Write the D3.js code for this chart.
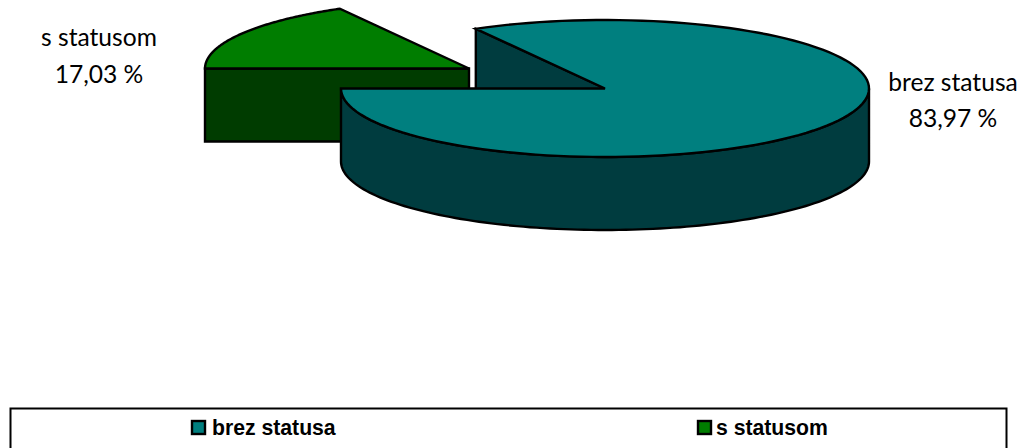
<!DOCTYPE html>
<html><head><meta charset="utf-8">
<script src="https://cdn.jsdelivr.net/npm/d3@7"></script>
<style>html,body{margin:0;padding:0;background:#fff;overflow:hidden}svg{display:block}</style>
</head><body><svg id="c" width="1020" height="448"></svg>
<script>
const categories = ["s statusom", "brez statusa"];
const values = [17.03, 83.97];
const valueLabels = ["17,03 %", "83,97 %"];
const legendOrder = ["brez statusa", "s statusom"];
const topColors = ["#007d00", "#007f7f"];
const wallColors = ["#003c00", "#003c3f"];

const svg = d3.select("#c");
const W = 264, H = 68.5, depth = 73;
const sx = d3.scaleLinear().domain([-1, 1]).range([605 - W, 605 + W]);
const sy = d3.scaleLinear().domain([-1, 1]).range([88.5 - H, 88.5 + H]);
const pie = d3.pie().sort(null).value(d => d).startAngle(-Math.PI / 2).endAngle(3 * Math.PI / 2);
const arcs = pie(values);
const explode = [{dx: -136, dy: -20}, {dx: 0, dy: 0}];
const line = d3.line().x(d => d[0]).y(d => d[1]);
const pt = (a, o, dz = 0) => [sx(Math.sin(a)) + o.dx, sy(-Math.cos(a)) + o.dy + dz];
const ctr = (o, dz = 0) => [sx(0) + o.dx, sy(0) + o.dy + dz];
const rim = (a0, a1, o, dz = 0) => d3.range(0, 121).map(i => pt(a0 + (a1 - a0) * i / 120, o, dz));
const style = s => s.attr("stroke", "#000").attr("stroke-width", 2.4).attr("stroke-linejoin", "miter");
const draw = (pts, fill) => style(svg.append("path").attr("d", line(pts) + "Z").attr("fill", fill));

// exploded slice
{
  const a = arcs[0], o = explode[0];
  const p0 = pt(a.startAngle, o), c = ctr(o);
  draw([p0, c, ctr(o, depth), pt(a.startAngle, o, depth)], wallColors[0]);
  draw([c, ...rim(a.startAngle, a.endAngle, o)], topColors[0]);
}
// main slice
{
  const a = arcs[1], o = explode[1];
  const c = ctr(o);
  draw([pt(a.startAngle, o), c, ctr(o, depth), pt(a.startAngle, o, depth)], wallColors[1]);
  const back = Math.PI / 2, end = a.endAngle;
  draw([...rim(back, end, o), ...rim(end, back, o, depth)], wallColors[1]);
  draw([c, ...rim(a.startAngle, a.endAngle, o)], topColors[1]);
}
// data labels
const labelPos = [{x: 99, y1: 46, y2: 83}, {x: 953, y1: 91, y2: 127}];
categories.forEach((c, i) => {
  const g = svg.append("g").attr("font-family", "Lato, 'Open Sans', sans-serif").attr("font-size", 24.6).attr("fill", "#000").attr("text-anchor", "middle");
  g.append("text").attr("x", labelPos[i].x).attr("y", labelPos[i].y1).text(c);
  g.append("text").attr("x", labelPos[i].x).attr("y", labelPos[i].y2).text(valueLabels[i]);
});
// legend
svg.append("rect").attr("x", 10.5).attr("y", 408.5).attr("width", 996).attr("height", 60).attr("fill", "#fff").attr("stroke", "#000").attr("stroke-width", 2);
const legendX = [192, 698], legendTextX = [212, 716];
legendOrder.forEach((c, i) => {
  const k = categories.indexOf(c);
  svg.append("rect").attr("x", legendX[i]).attr("y", 421).attr("width", 13).attr("height", 13).attr("fill", topColors[k]).attr("stroke", "#000").attr("stroke-width", 2.4);
  svg.append("text").attr("x", legendTextX[i]).attr("y", 435).attr("font-family", "'Liberation Sans', Arial, sans-serif").attr("font-weight", "bold").attr("font-size", 21.2).attr("fill", "#000").text(c);
});
</script></body></html>
